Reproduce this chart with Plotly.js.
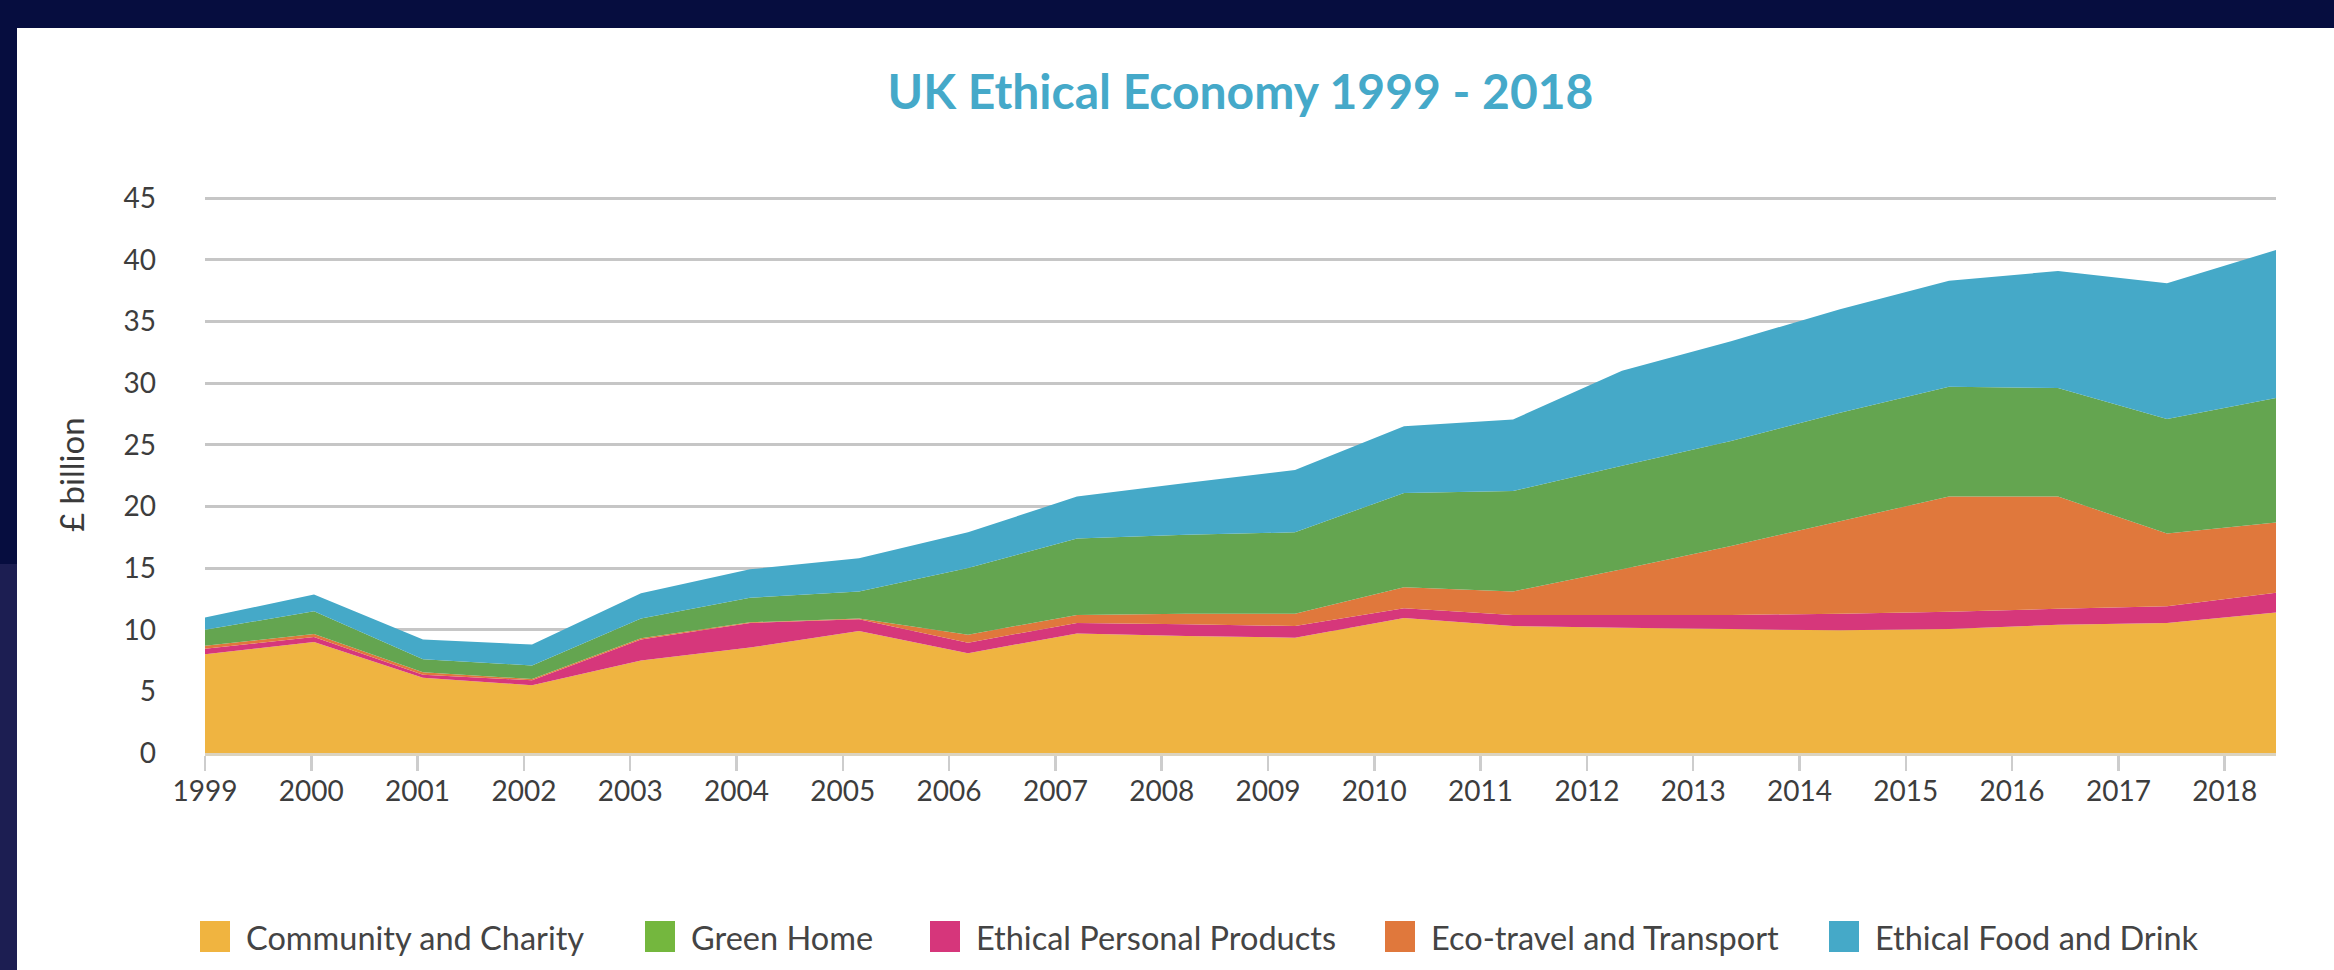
<!DOCTYPE html>
<html>
<head>
<meta charset="utf-8">
<script src="https://cdn.plot.ly/plotly-3.0.1.min.js"></script>
<style>
  html, body { margin: 0; padding: 0; width: 2334px; height: 970px; overflow: hidden; background: #060d3f; }
  #strip { position: absolute; left: 0; top: 564px; width: 17px; height: 406px; background: #1c1e52; }
  #chart { position: absolute; left: 17px; top: 28px; width: 2317px; height: 942px; background: #ffffff; }
</style>
</head>
<body>
<div id="strip"></div>
<div id="chart"></div>
<script>
// ---- data (£ billion) ----
const years = [1999, 2000, 2001, 2002, 2003, 2004, 2005, 2006, 2007, 2008,
               2009, 2010, 2011, 2012, 2013, 2014, 2015, 2016, 2017, 2018];
const yearLabels = years.map(String);

const communityCharity = [8.0, 9.0, 6.1, 5.5, 7.5, 8.55, 9.9, 8.1, 9.7, 9.5,
                          9.35, 10.95, 10.3, 10.15, 10.05, 9.95, 10.05, 10.4, 10.55, 11.4];
const ethicalPersonal  = [0.45, 0.4, 0.25, 0.4, 1.7, 2.0, 0.95, 0.85, 0.85, 0.95,
                          0.95, 0.8, 0.9, 1.05, 1.15, 1.35, 1.4, 1.3, 1.35, 1.6];
const ecoTravel        = [0.25, 0.25, 0.2, 0.1, 0.1, 0.05, 0.05, 0.65, 0.65, 0.85,
                          1.0, 1.7, 1.9, 3.7, 5.6, 7.5, 9.35, 9.1, 5.9, 5.7];
const greenHome        = [1.3, 1.85, 1.05, 1.1, 1.6, 2.0, 2.2, 5.4, 6.2, 6.4,
                          6.6, 7.65, 8.15, 8.4, 8.5, 8.8, 8.9, 8.8, 9.3, 10.1];
const ethicalFood      = [1.0, 1.35, 1.6, 1.7, 2.05, 2.3, 2.7, 2.9, 3.4, 4.2,
                          5.05, 5.4, 5.8, 7.7, 8.1, 8.4, 8.6, 9.5, 11.0, 12.0];

const yTicks = [0, 5, 10, 15, 20, 25, 30, 35, 40, 45];

// stacking order (bottom -> top)
const stackNames  = ['Community and Charity', 'Ethical Personal Products', 'Eco-travel and Transport', 'Green Home', 'Ethical Food and Drink'];
const stackValues = [communityCharity, ethicalPersonal, ecoTravel, greenHome, ethicalFood];
const stackColors = ['#efb441', '#d6377b', '#e0783c', '#64a550', '#45a9c8'];

// legend order
const legendNames  = ['Community and Charity', 'Green Home', 'Ethical Personal Products', 'Eco-travel and Transport', 'Ethical Food and Drink'];
const legendColors = ['#f0b440', '#74b73e', '#d6367b', '#e0783c', '#45a9c8'];

// ---- layout geometry ----
const W = 2317, H = 942;
const M = {l: 188, r: 58, t: 169, b: 217};
const PW = W - M.l - M.r, PH = H - M.t - M.b;
const px2x = p => (p - M.l) / PW;
const px2y = p => (H - M.b - p) / PH;
const FONT = 'Lato, "Open Sans", sans-serif';

const traces = stackNames.map((name, i) => ({
  type: 'scatter',
  x: years,
  y: stackValues[i],
  name: name,
  stackgroup: 'one',
  mode: 'none',
  fillcolor: stackColors[i],
  line: {width: 0},
  hoverinfo: 'x+y+name',
  showlegend: false
}));

// invisible carrier so the year tick axis (x2) is drawn
traces.push({
  type: 'scatter', x: years, y: communityCharity,
  xaxis: 'x2', yaxis: 'y', mode: 'none',
  hoverinfo: 'skip', showlegend: false
});

// legend built from names/colours
const legendLeft = [183, 628, 913, 1368, 1812];
const shapes = [];
const annotations = [];
legendNames.forEach((n, i) => {
  shapes.push({
    type: 'rect', xref: 'paper', yref: 'paper',
    x0: px2x(legendLeft[i]), x1: px2x(legendLeft[i] + 30),
    y0: px2y(924), y1: px2y(893),
    fillcolor: legendColors[i], line: {width: 0}
  });
  annotations.push({
    xref: 'paper', yref: 'paper',
    x: px2x(legendLeft[i] + 44), y: px2y(909),
    xanchor: 'left', yanchor: 'middle',
    text: n, showarrow: false,
    font: {family: FONT, size: 32.5, color: '#444444'}
  });
});
annotations.push({
  xref: 'paper', yref: 'paper', x: 0, y: 0.5,
  xshift: -(M.l - 54), xanchor: 'center', yanchor: 'middle',
  text: '£ billion', textangle: -90, showarrow: false,
  font: {family: FONT, size: 33, color: '#3a3a3a'}
});

const layout = {
  width: W, height: H,
  margin: M,
  paper_bgcolor: '#ffffff',
  plot_bgcolor: '#ffffff',
  showlegend: false,
  title: {
    text: 'UK Ethical Economy 1999 - 2018',
    font: {family: FONT, size: 48, color: '#45a9c9', weight: 700},
    x: 0.5, xref: 'paper', xanchor: 'center',
    y: 1 - 64 / H, yref: 'container', yanchor: 'middle'
  },
  xaxis: {
    range: [years[0], years[years.length - 1]],
    visible: false, fixedrange: true
  },
  xaxis2: {
    overlaying: 'x', anchor: 'y', side: 'bottom',
    range: [years[0], years[0] + PW / 106.3],
    tickmode: 'array', tickvals: years, ticktext: yearLabels,
    ticks: 'outside', ticklen: 15, tickwidth: 2.5, tickcolor: '#cdcdcd',
    ticklabelstandoff: -4,
    showgrid: false, zeroline: false,
    showline: true, linecolor: '#dbd3bf', linewidth: 3,
    tickfont: {family: FONT, size: 28, color: '#3d3d3d'},
    fixedrange: true
  },
  yaxis: {
    range: [0, 45.1],
    tickmode: 'array', tickvals: yTicks, ticktext: yTicks.map(String),
    showgrid: true, gridcolor: '#c6c6c6', gridwidth: 3,
    zeroline: false, showline: false, ticks: '',
    ticklabelstandoff: 48,
    tickfont: {family: FONT, size: 28, color: '#3d3d3d'},
    fixedrange: true
  },
  shapes: shapes,
  annotations: annotations
};

Plotly.newPlot('chart', traces, layout, {displayModeBar: false, staticPlot: true});
</script>
</body>
</html>
